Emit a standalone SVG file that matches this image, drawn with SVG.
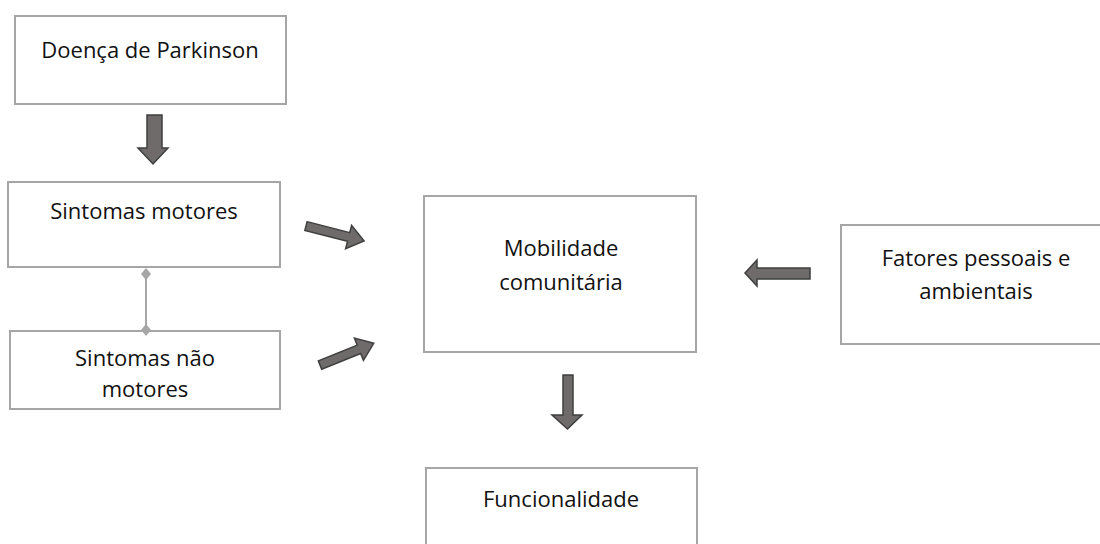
<svg xmlns="http://www.w3.org/2000/svg" width="1100" height="544" viewBox="0 0 1100 544">
<style>
.box{fill:#fff;stroke:#a6a6a6;stroke-width:2}
.t{font-family:"Open Sans","Liberation Sans",sans-serif;font-size:22px;fill:#111;text-anchor:middle}
.arr{fill:#6f6b6b;stroke:#3f3f3f;stroke-width:1.5;stroke-linejoin:miter}
.ln{stroke:#a6a6a6;stroke-width:2;fill:none}
.dm{fill:#a6a6a6}
</style>
<rect width="1100" height="544" fill="#fff"/>
<g id="n-parkinson"><rect class="box" x="15" y="16" width="271" height="88"/><text class="t" x="150" y="58">Doença de Parkinson</text></g>
<g id="n-motores"><rect class="box" x="8" y="182" width="272" height="85"/><text class="t" x="144" y="219">Sintomas motores</text></g>
<g id="n-naomotores"><rect class="box" x="10" y="331" width="270" height="78"/><text class="t" x="145" y="366">Sintomas não</text><text class="t" x="145" y="397">motores</text></g>
<g id="n-mobilidade"><rect class="box" x="424" y="196" width="272" height="156"/><text class="t" x="561" y="256">Mobilidade</text><text class="t" x="561" y="290">comunitária</text></g>
<g id="n-fatores"><rect class="box" x="841" y="225" width="270" height="119"/><text class="t" x="976" y="266">Fatores pessoais e</text><text class="t" x="976" y="299">ambientais</text></g>
<g id="n-funcionalidade"><rect class="box" x="426" y="468" width="271" height="90"/><text class="t" x="561" y="507">Funcionalidade</text></g>
<g id="connectors">
<polygon class="arr" points="147,115 162,115 162,148 168,148 153,164 138,148 147,148"/>
<g transform="translate(306,226) rotate(14.5)"><polygon class="arr" points="0,-4.5 44,-4.5 44,-12 60,0 44,12 44,4.5 0,4.5"/></g>
<g transform="translate(320,365) rotate(-22)"><polygon class="arr" points="0,-4.5 42,-4.5 42,-12 58,0 42,12 42,4.5 0,4.5"/></g>
<polygon class="arr" points="810,268 810,279 757,279 757,286 745,273 757,260 757,268"/>
<polygon class="arr" points="563,375 573,375 573,415 582,415 567.5,429 552,415 563,415"/>
<line class="ln" x1="146" y1="274" x2="146" y2="330"/>
<polygon class="dm" points="146,268 151,274 146,280 141,274"/>
<polygon class="dm" points="146,324 151,330 146,336 141,330"/>
</g>
</svg>
